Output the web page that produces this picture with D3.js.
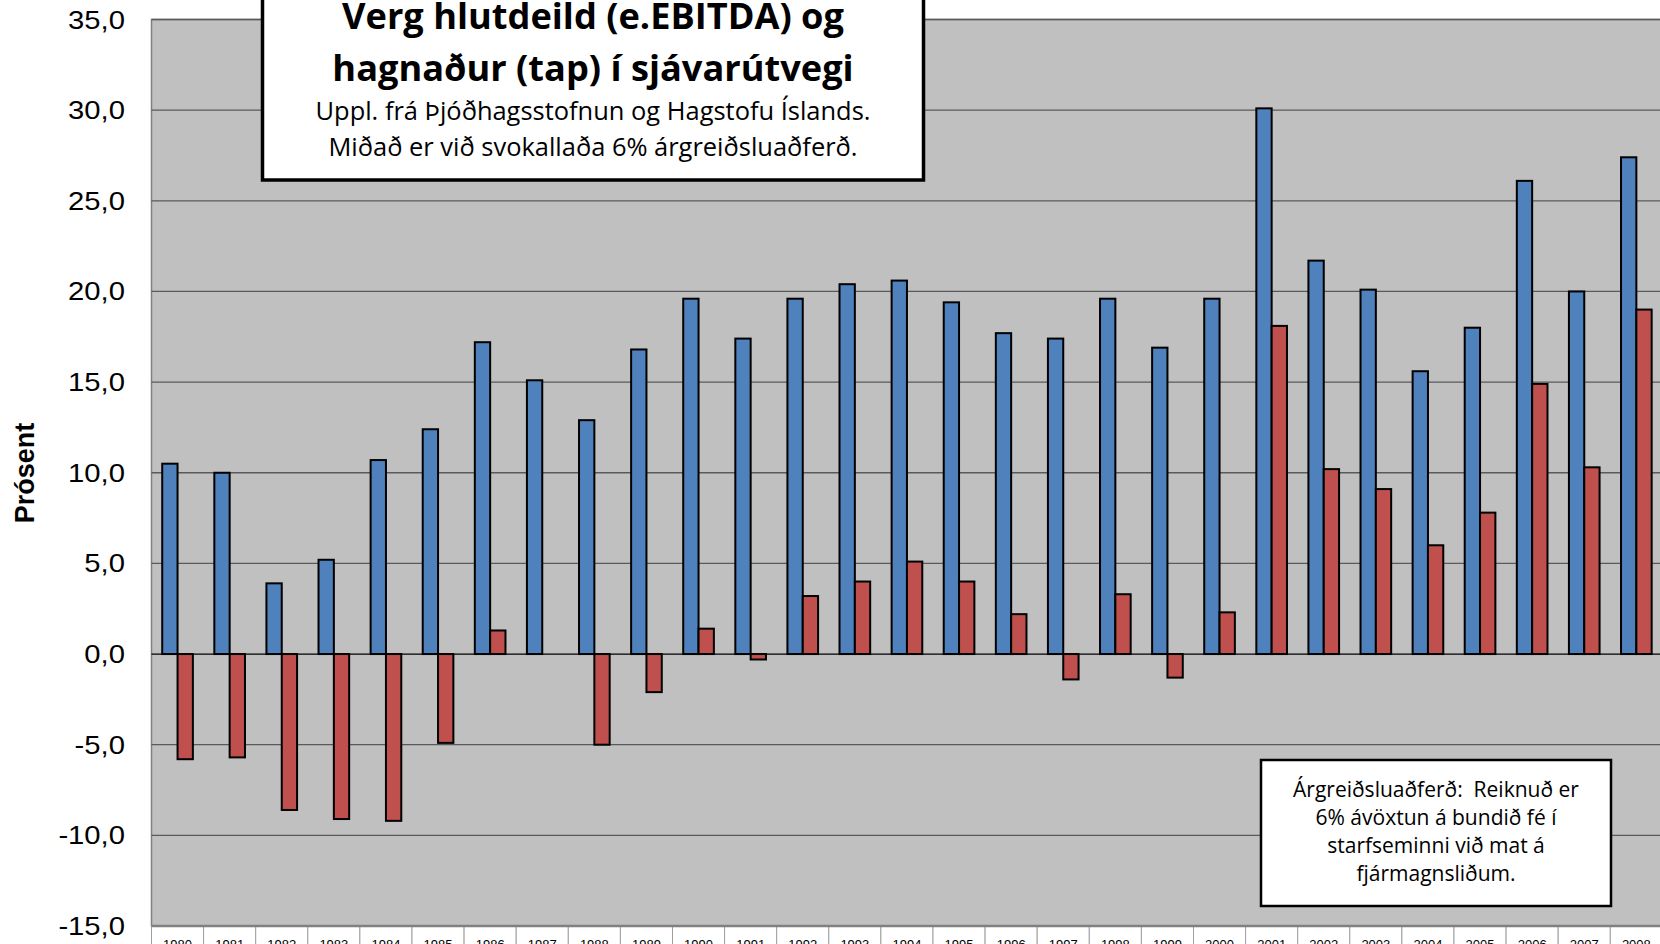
<!DOCTYPE html>
<html>
<head>
<meta charset="utf-8">
<script src="https://cdn.jsdelivr.net/npm/d3@7"></script>
<style>
  body { margin: 0; background: #fff; }
  svg { display: block; }
</style>
</head>
<body>
<svg width="1660" height="944"></svg>
<script>
// data
var years = ['1980','1981','1982','1983','1984','1985','1986','1987','1988','1989',
             '1990','1991','1992','1993','1994','1995','1996','1997','1998','1999',
             '2000','2001','2002','2003','2004','2005','2006','2007','2008'];
var ebitda = [10.5, 10.0, 3.9, 5.2, 10.7, 12.4, 17.2, 15.1, 12.9, 16.8,
              19.6, 17.4, 19.6, 20.4, 20.6, 19.4, 17.7, 17.4, 19.6, 16.9,
              19.6, 30.1, 21.7, 20.1, 15.6, 18.0, 26.1, 20.0, 27.4];
var profit = [-5.8, -5.7, -8.6, -9.1, -9.2, -4.9, 1.3, 0, -5.0, -2.1,
              1.4, -0.3, 3.2, 4.0, 5.1, 4.0, 2.2, -1.4, 3.3, -1.3,
              2.3, 18.1, 10.2, 9.1, 6.0, 7.8, 14.9, 10.3, 19.0];
var yTicks = [-15, -10, -5, 0, 5, 10, 15, 20, 25, 30, 35];

var titleLines = ['Verg hlutdeild (e.EBITDA) og', 'hagnaður (tap) í sjávarútvegi'];
var subLines = ['Uppl. frá Þjóðhagsstofnun og Hagstofu Íslands.', 'Miðað er við svokallaða 6% árgreiðsluaðferð.'];
var noteLines = ['Árgreiðsluaðferð:  Reiknuð er', '6% ávöxtun á bundið fé í', 'starfseminni við mat á', 'fjármagnsliðum.'];

var svg = d3.select('svg');

var plotLeft = 151.5, plotTop = 19.5, plotBottom = 926;
var catW = 52.1;

var x = d3.scaleBand().domain(years).range([plotLeft, plotLeft + years.length * catW]);
var x1 = d3.scaleBand().domain(['ebitda', 'profit'])
    .range([0, x.bandwidth()]).paddingInner(0).paddingOuter(0.7);
var y = d3.scaleLinear().domain([-15, 35]).range([plotBottom, plotTop]);

// plot area
svg.append('rect')
    .attr('x', plotLeft).attr('y', plotTop)
    .attr('width', 1700 - plotLeft).attr('height', plotBottom - plotTop)
    .attr('fill', '#c0c0c0')
    .attr('stroke', '#808080').attr('stroke-width', 1.5);

// grid
svg.append('g').selectAll('line')
    .data(yTicks.filter(function(d){ return d > -15; }))
    .enter().append('line')
    .attr('x1', plotLeft).attr('x2', 1700)
    .attr('y1', function(d){ return y(d); })
    .attr('y2', function(d){ return y(d); })
    .attr('stroke', function(d){ return d == 0 ? '#000' : '#5a5a5a'; })
    .attr('stroke-width', 1.3);

// y tick labels
svg.append('g').selectAll('text')
    .data(yTicks)
    .enter().append('text')
    .attr('transform', function(d){ return 'translate(125,' + (y(d) + 9) + ') scale(1.17,1)'; })
    .attr('text-anchor', 'end')
    .style('font-family', '"Liberation Sans", Arial, sans-serif')
    .style('font-size', '25px')
    .attr('fill', '#000')
    .text(function(d){ return d3.format('.1f')(d).replace('.', ',').replace('−', '-'); });

svg.append('text')
    .attr('transform', 'translate(34,473) rotate(-90)')
    .attr('text-anchor', 'middle')
    .style('font-family', '"Liberation Sans", Arial, sans-serif')
    .style('font-size', '27px')
    .style('font-weight', 'bold')
    .text('Prósent');

// bars
var groups = svg.append('g').selectAll('g')
    .data(years)
    .enter().append('g')
    .attr('transform', function(d){ return 'translate(' + x(d) + ',0)'; });

groups.append('rect')
    .attr('x', x1('ebitda'))
    .attr('width', x1.bandwidth())
    .attr('y', function(d, i){ return y(Math.max(0, ebitda[i])); })
    .attr('height', function(d, i){ return Math.abs(y(ebitda[i]) - y(0)); })
    .attr('fill', '#4f81bd')
    .attr('stroke', '#000').attr('stroke-width', 2);

groups.filter(function(d, i){ return profit[i] != 0; })
    .append('rect')
    .attr('x', x1('profit'))
    .attr('width', x1.bandwidth())
    .attr('y', function(d){ var v = profit[years.indexOf(d)]; return y(Math.max(0, v)); })
    .attr('height', function(d){ var v = profit[years.indexOf(d)]; return Math.abs(y(v) - y(0)); })
    .attr('fill', '#c0504d')
    .attr('stroke', '#000').attr('stroke-width', 2);

// category table row under plot
svg.append('g').selectAll('rect')
    .data(years)
    .enter().append('rect')
    .attr('x', function(d){ return x(d); })
    .attr('y', plotBottom)
    .attr('width', x.bandwidth())
    .attr('height', 40)
    .attr('fill', '#fff')
    .attr('stroke', '#a0a0a0').attr('stroke-width', 1);

svg.append('line')
    .attr('x1', plotLeft).attr('x2', 1700)
    .attr('y1', plotBottom).attr('y2', plotBottom)
    .attr('stroke', '#808080').attr('stroke-width', 2.5);

svg.append('g').selectAll('text')
    .data(years)
    .enter().append('text')
    .attr('x', function(d){ return x(d) + x.bandwidth() / 2; })
    .attr('y', 949)
    .attr('text-anchor', 'middle')
    .style('font-family', '"Liberation Sans", Arial, sans-serif')
    .style('font-size', '13px')
    .text(function(d){ return d; });

// fit a block of lines so its first line spans the given width
function fitLines(lines, cx, baselines, target, weight) {
    var t = svg.selectAll(null).data(lines).enter().append('text')
        .attr('x', cx)
        .attr('y', function(d, i){ return baselines[i]; })
        .attr('text-anchor', 'middle')
        .style('font-family', '"Open Sans", sans-serif')
        .style('font-weight', weight)
        .style('font-size', '30px')
        .style('white-space', 'pre')
        .text(function(d){ return d; });
    var w = t.nodes()[0].getComputedTextLength();
    t.style('font-size', (30 * target / w) + 'px');
}

// title box
svg.append('rect')
    .attr('x', 262.5).attr('y', -10)
    .attr('width', 661).attr('height', 190)
    .attr('fill', '#fff')
    .attr('stroke', '#000').attr('stroke-width', 3.5);

fitLines(titleLines, 593, [29, 81], 502, 'bold');
fitLines(subLines, 593, [120, 156], 555, 'normal');

// note box
svg.append('rect')
    .attr('x', 1261).attr('y', 760)
    .attr('width', 350).attr('height', 146)
    .attr('fill', '#fff')
    .attr('stroke', '#000').attr('stroke-width', 2.5);

fitLines(noteLines, 1436, [797, 825, 853, 881], 286, 'normal');
</script>
</body>
</html>
